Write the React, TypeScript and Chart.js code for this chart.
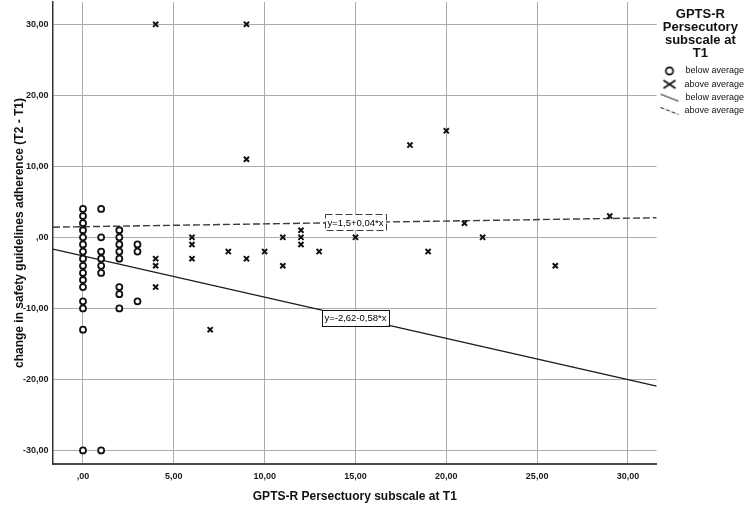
import React, { useEffect, useRef } from 'react';
import { Chart, registerables } from 'chart.js';

Chart.register(...registerables);

const FONT = '"Liberation Sans", Arial, Helvetica, sans-serif';

// GPTS-R persecutory subscale at T1 (x) vs change in adherence (y)
const BELOW_X = [0, 0, 0, 0, 0, 0, 0, 0, 0, 0, 0, 0, 0, 0, 0, 0,
  1, 1, 1, 1, 1, 1, 1,
  2, 2, 2, 2, 2, 2, 2, 2,
  3, 3, 3];
const BELOW_Y = [4, 3, 2, 1, 0, -1, -2, -3, -4, -5, -6, -7, -9, -10, -13, -30,
  4, 0, -2, -3, -4, -5, -30,
  1, 0, -1, -2, -3, -7, -8, -10,
  -1, -2, -9];

const ABOVE_X = [4, 4, 4, 4, 6, 6, 6, 7, 8, 9, 9, 9, 10, 11, 11, 12, 12, 12, 13, 15, 18, 19, 20, 21, 22, 26, 29];
const ABOVE_Y = [30, -3, -4, -7, 0, -1, -3, -13, -2, 30, 11, -3, -2, 0, -4, 1, 0, -1, -2, 0, 13, -2, 15, 2, 0, -4, 3];

// Fit lines (coefficients as printed on the chart)
const BELOW_FIT = { intercept: -2.62, slope: -0.58, label: 'y=-2,62-0,58*x' };
const ABOVE_FIT = { intercept: 1.5, slope: 0.04, label: 'y=1,5+0,04*x' };
const FIT_LABEL_AT = 15;

const X_TICKS = [0, 5, 10, 15, 20, 25, 30];
const X_TICK_LABELS = [',00', '5,00', '10,00', '15,00', '20,00', '25,00', '30,00'];
const Y_TICKS = [-30, -20, -10, 0, 10, 20, 30];
const Y_TICK_LABELS = ['-30,00', '-20,00', '-10,00', ',00', '10,00', '20,00', '30,00'];

const X_MIN = -1.651;
const X_MAX = 31.58;
const Y_MIN = -31.91;
const Y_MAX = 33.14;

const X_TITLE = 'GPTS-R Persectuory subscale at T1';
const Y_TITLE = 'change in safety guidelines adherence (T2 - T1)';
const LEGEND_TITLE = ['GPTS-R', 'Persecutory', 'subscale at', 'T1'];
const LEGEND_LABELS = ['below average', 'above average', 'below average', 'above average'];

function makeIcon(kind: string): HTMLCanvasElement {
  const c = document.createElement('canvas');
  c.width = 28;
  c.height = 12;
  const g = c.getContext('2d') as CanvasRenderingContext2D;
  const cx = 18;
  const cy = 6;
  g.strokeStyle = '#111';
  g.beginPath();
  if (kind === 'circle') {
    g.lineWidth = 1.8;
    g.arc(cx, cy, 3.6, 0, Math.PI * 2);
    g.fillStyle = '#fff';
    g.fill();
  } else if (kind === 'cross') {
    g.lineWidth = 1.8;
    g.moveTo(cx - 6, cy - 4);
    g.lineTo(cx + 6, cy + 4);
    g.moveTo(cx + 6, cy - 4);
    g.lineTo(cx - 6, cy + 4);
  } else {
    g.lineWidth = 1;
    if (kind === 'dash') g.setLineDash([4, 2]);
    g.moveTo(cx - 9, cy - 3.5);
    g.lineTo(cx + 9, cy + 3.5);
  }
  g.stroke();
  return c;
}

const fitLabelPlugin = {
  id: 'fitLabels',
  afterDatasetsDraw(chart: any) {
    const { ctx, scales } = chart;
    const fits = [
      { fit: BELOW_FIT, dash: [] as number[] },
      { fit: ABOVE_FIT, dash: [7, 3] },
    ];
    fits.forEach(({ fit, dash }) => {
      const px = scales.x.getPixelForValue(FIT_LABEL_AT);
      const py = scales.y.getPixelForValue(fit.intercept + fit.slope * FIT_LABEL_AT);
      ctx.save();
      ctx.font = `9.5px ${FONT}`;
      const w = ctx.measureText(fit.label).width + 5;
      const h = 16;
      ctx.fillStyle = '#fff';
      ctx.fillRect(px - w / 2, py - h / 2, w, h);
      ctx.strokeStyle = dash.length ? '#3d3d3d' : '#111';
      ctx.lineWidth = 1;
      ctx.setLineDash(dash);
      ctx.strokeRect(Math.round(px - w / 2) + 0.5, Math.round(py - h / 2) + 0.5, Math.round(w), h);
      ctx.setLineDash([]);
      ctx.fillStyle = '#000';
      ctx.textAlign = 'center';
      ctx.textBaseline = 'middle';
      ctx.fillText(fit.label, px, py + 0.5);
      ctx.restore();
    });
  },
};

export default function App() {
  const canvasRef = useRef<HTMLCanvasElement | null>(null);

  useEffect(() => {
    const canvas = canvasRef.current;
    if (!canvas) return;
    const icons = [makeIcon('circle'), makeIcon('cross'), makeIcon('line'), makeIcon('dash')];

    const fitPoints = (f: { intercept: number; slope: number }) => [
      { x: X_MIN, y: f.intercept + f.slope * X_MIN },
      { x: X_MAX, y: f.intercept + f.slope * X_MAX },
    ];

    const chart = new Chart(canvas, {
      type: 'scatter',
      data: {
        datasets: [
          {
            label: 'below average',
            data: BELOW_X.map((x, i) => ({ x, y: BELOW_Y[i] })),
            pointStyle: 'circle',
            pointRadius: 3,
            pointBorderWidth: 1.8,
            pointBackgroundColor: '#fff',
            pointBorderColor: '#111',
          },
          {
            label: 'above average',
            data: ABOVE_X.map((x, i) => ({ x, y: ABOVE_Y[i] })),
            pointStyle: 'crossRot',
            pointRadius: 3.6,
            pointBorderWidth: 2,
            pointBorderColor: '#111',
          },
          {
            label: 'below average fit',
            data: fitPoints(BELOW_FIT),
            showLine: true,
            pointRadius: 0,
            borderColor: '#1a1a1a',
            borderWidth: 1.3,
          },
          {
            label: 'above average fit',
            data: fitPoints(ABOVE_FIT),
            showLine: true,
            pointRadius: 0,
            borderColor: '#3d3d3d',
            borderWidth: 1.4,
            borderDash: [7, 3],
          },
        ],
      },
      options: {
        responsive: false,
        animation: false,
        events: [],
        layout: { autoPadding: false, padding: { top: 2, right: 3, left: 0, bottom: 0 } },
        scales: {
          x: {
            type: 'linear',
            min: X_MIN,
            max: X_MAX,
            afterBuildTicks: (scale: any) => {
              scale.ticks = X_TICKS.map((value) => ({ value }));
            },
            afterFit: (scale: any) => {
              scale.height = 51;
              scale.paddingLeft = 0;
              scale.paddingRight = 0;
            },
            ticks: {
              padding: 7.6,
              color: '#1a1a1a',
              font: { family: FONT, size: 9, weight: 'bold' },
              maxRotation: 0,
              autoSkip: false,
              callback: (v: any) => X_TICK_LABELS[X_TICKS.indexOf(Number(v))] ?? '',
            },
            grid: { color: '#ababab', lineWidth: 1, drawTicks: false },
            border: { color: '#4a4a4a', width: 2 },
            title: {
              display: true,
              text: X_TITLE,
              color: '#111',
              font: { family: FONT, size: 12, weight: 'bold' },
              padding: { top: 0, bottom: 10.8 },
            },
          },
          y: {
            type: 'linear',
            min: Y_MIN,
            max: Y_MAX,
            afterBuildTicks: (scale: any) => {
              scale.ticks = Y_TICKS.map((value) => ({ value }));
            },
            afterFit: (scale: any) => {
              scale.width = 53;
              scale.paddingTop = 0;
              scale.paddingBottom = 0;
            },
            ticks: {
              padding: 4.5,
              color: '#1a1a1a',
              font: { family: FONT, size: 9, weight: 'bold' },
              autoSkip: false,
              callback: (v: any) => Y_TICK_LABELS[Y_TICKS.indexOf(Number(v))] ?? '',
            },
            grid: { color: '#ababab', lineWidth: 1, drawTicks: false },
            border: { color: '#333', width: 1.5 },
            title: {
              display: true,
              text: Y_TITLE,
              color: '#111',
              font: { family: FONT, size: 12, weight: 'bold' },
              padding: { top: 12.8, bottom: 0 },
            },
          },
        },
        plugins: {
          tooltip: { enabled: false },
          legend: {
            position: 'right',
            align: 'start',
            onClick: () => {},
            title: {
              display: true,
              text: LEGEND_TITLE,
              color: '#111',
              position: 'center',
              font: { family: FONT, size: 13, weight: 'bold', lineHeight: 1 },
              padding: { top: 5.5, bottom: 41.7 },
            },
            labels: {
              usePointStyle: true,
              boxWidth: 9,
              boxHeight: 9,
              padding: 4.3,
              textAlign: 'right',
              color: '#111',
              font: { family: FONT, size: 9 },
              generateLabels: () =>
                LEGEND_LABELS.map((text, i) => ({
                  text,
                  pointStyle: icons[i],
                  fillStyle: '#fff',
                  strokeStyle: '#111',
                  fontColor: '#111',
                  lineWidth: 0,
                  hidden: false,
                  datasetIndex: i,
                })),
            },
          },
        },
      } as any,
      plugins: [fitLabelPlugin],
    });

    return () => {
      chart.destroy();
    };
  }, []);

  return (
    <div style={{ position: 'absolute', left: 0, top: 0, width: 747, height: 515, background: '#fff' }}>
      <canvas ref={canvasRef} width={747} height={515} style={{ display: 'block' }} />
    </div>
  );
}
